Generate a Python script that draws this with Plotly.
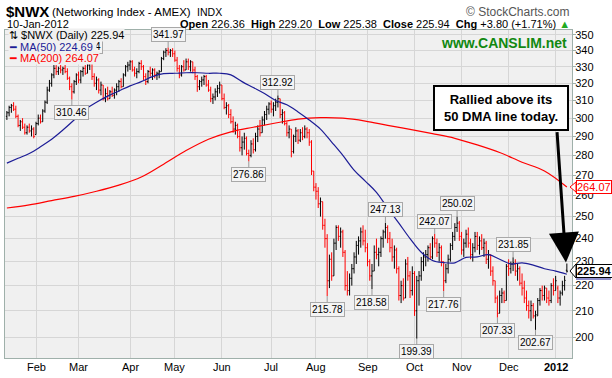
import math
import pandas as pd
import plotly.graph_objects as go

# ---------------- data ----------------
holidays = ["2011-01-17", "2011-02-21", "2011-04-22", "2011-05-30", "2011-07-04",
            "2011-09-05", "2011-11-24", "2011-12-26", "2012-01-02"]
dates = [d for d in pd.bdate_range("2011-01-12", "2012-01-10")
         if d.strftime("%Y-%m-%d") not in holidays]

opens = [301,303,306,307,305,301,296,298,295,292,
         295,293,294,291,297,300,298,304,309,316,
         320,325,329,327,329,328,329,327,323,318,
         315,321,325,322,327,329,326,331,332,324,
         320,322,316,319,311,314,311,315,313,316,
         318,321,318,325,330,331,333,328,326,327,
         332,330,324,321,327,326,328,325,326,327,
         335,339,340,339,340,338,334,329,325,330,
         328,333,330,333,328,324,318,321,322,324,
         319,316,311,312,315,317,319,311,306,307,
         302,298,294,296,290,284,287,289,281,280,
         286,283,290,294,292,299,302,305,308,305,
         307,309,311,302,303,297,292,294,282,290,
         293,288,292,290,294,292,287,272,264,262,
         256,257,246,240,222,231,224,238,245,241,
         243,234,220,218,223,227,232,237,239,243,
         239,236,230,224,226,234,233,234,240,243,
         245,240,236,232,235,227,216,220,215,229,
         224,218,225,210,222,224,230,232,233,236,
         232,240,238,234,236,230,222,227,231,237,
         241,245,247,241,235,238,242,238,233,236,
         241,237,239,236,238,231,233,226,222,215,
         209,216,217,214,228,227,229,229,226,227,
         221,219,215,212,210,212,208,208,214,218,
         216,219,215,214,220,218,219,215,217,220,
         226.36]
highs = [304,307,308,309,307,302,299,300,297,296,
         297,296,295,298,302,302,305,310,318,322,
         326,331,331,330,331,330,331,329,324,320,
         322,326,327,328,330,331,333,334.14,332,326,
         324,323,321,319,317,318,316,318,317,320,
         322,323,326,331,333,334,334,330,329,333,
         334,331,326,328,330,329,329,327,328,336,
         340,341.5,341.97,341,341.5,340,336,331,331,334,
         335,335,334,333,330,325,322,324,325,325,
         322,318,314,317,319,321,319,314,309,308,
         305,301,298,297,293,290,292,290,283,288,
         289,292,296,299,301,304,307,309,310,309,
         311,312.92,311,305,304,298,296,294,291,295,
         294,294,295,296,295,294,288,272,266,264,
         259,257,249,242,233,234,240,246,246,245,
         244,235,226,225,229,234,239,241,245,246,
         244,238,231,229,237,240,236,241,244,247.13,
         246,243,240,237,236,228,222,223,231,232,
         226,228,226,224,226,232,234,235,237,238,
         241,242.07,240,238,237,230,229,233,238,243,
         247,250.02,248,243,240,244,245,240,238,243,
         243,241,242,240,239,235,233,228,222,216,
         218,219,218,229,231,230,231.85,231,229,228,
         225,222,218,214,214,213,210,215,219,220,
         220,219,218,221,223,224,220,218,222,224,
         229.2]
lows = [299,301,303,304,300,295,293,294,291,291,
        292,290,289,291,296,297,298,303,308,315,
        318,323,325,325,326,325,326,322,316,310.46,
        314,319,320,320,324,325,326,328,322,318,
        316,314,313,310,309,310,311,312,311,313,
        315,317,318,324,327,328,327,324,323,326,
        328,322,319,320,324,322,323,322,323,327,
        334,336,337,336,336,333,327,323,324,327,
        328,328,327,326,322,315,316,318,319,318,
        315,309,308,310,312,314,310,305,302,300,
        297,292,291,289,282,280,283,280,276.86,279,
        281,282,287,290,292,296,299,302,303,301,
        304,306,300,297,296,290,289,279,281,287,
        286,287,288,289,289,285,270,262,258,254,
        250,244,236,215.78,219,222,224,235,239,236,
        232,218,216,216,220,225,229,233,236,237,
        234,228,222,218.58,226,231,228,232,236,240,
        238,234,230,227,225,214,213,214,215,222,
        215,216,208,199.39,212,222,226,228,230,231,
        231,236,232,230,228,217.76,221,225,230,235,
        239,243,239,233,232,236,236,231,230,234,
        235,233,235,232,229,227,224,220,213,207.33,
        209,213,213,214,224,225,226,224,222,220,
        216,213,210,207,206,207,202.67,208,212,214,
        214,213,212,213,216,218,213,212,216,218,
        225.38]
closes = [303,306,307,305,301,296,298,295,292,295,
          293,294,290,297,300,298,304,309,316,320,
          325,329,327,329,328,329,327,323,318,315,
          321,325,322,327,329,326,331,332,324,320,
          322,316,319,311,314,311,315,313,316,318,
          321,318,325,330,331,333,328,326,327,332,
          330,324,321,327,326,328,325,326,327,335,
          339,340,339,340,338,334,329,325,330,328,
          333,330,333,328,324,318,321,322,324,319,
          316,311,312,315,317,319,311,306,307,302,
          298,294,296,290,284,287,289,281,280,286,
          283,290,294,292,299,302,305,308,305,307,
          309,311,302,303,297,292,294,282,290,293,
          288,292,290,294,292,287,272,264,262,256,
          257,246,240,222,231,224,238,245,241,243,
          234,220,218,223,227,232,237,239,243,239,
          236,230,224,226,234,233,234,240,243,245,
          240,236,232,235,227,216,220,215,229,224,
          218,225,210,222,224,230,232,233,236,232,
          240,238,234,236,230,222,227,231,237,241,
          245,247,241,235,238,242,238,233,236,241,
          237,239,236,238,231,233,226,222,215,209,
          216,217,214,228,227,229,229.5,226,227,221,
          219,215,212,210,212,208,208.5,214,218,216,
          219,215,214,220,218,222,215,217,220,222.14,
          225.94]

# moving averages read at every 5th / 10th bar
ma50_idx = list(range(0, 251, 5))
ma50_vals = [276,278.5,281,284.5,288.5,293.5,299,305,309,312.5,
             315.5,318.5,321,324,325.8,326,326.3,326.3,326,326,
             325,321,317.5,314,310,307.5,303.5,299,294,287,
             280,272.5,267,261.5,254,247,240,234,230.5,229.6,
             229.5,231.8,232,233,231,229,229.5,228.5,227,226,
             224.69]
ma200_idx = list(range(0, 251, 10))
ma200_vals = [254,255.5,257.5,259.5,262,265,269,275.5,282.5,288.5,
              292.5,295,297.3,299.5,300.3,300,298.4,296,293.8,291.5,
              289,285.5,281.5,276.5,272,264.07]

# labelled extremes: (bar index, value, above?)
label_idx = [72, 29, 37, 121, 108, 143, 163, 169, 191, 201, 195, 183, 219, 226, 236]
label_val = [341.97, 310.46, 334.14, 312.92, 276.86, 215.78, 218.58, 247.13,
             242.07, 250.02, 217.76, 199.39, 207.33, 231.85, 202.67]
label_up = [True, False, True, True, False, False, False, True,
            True, True, False, False, False, True, False]

y_ticks = list(range(200, 351, 10))

# ---------------- figure ----------------
n = len(closes)
xs = list(range(n))
up = [i for i in xs if i == 0 or closes[i] >= closes[i - 1]]
dn = [i for i in xs if i not in up]

month_idx, month_txt = [], []
for i in range(1, min(len(dates), n)):
    if dates[i].month != dates[i - 1].month:
        month_idx.append(i)
        month_txt.append("<b>2012</b>" if dates[i].month == 1 else dates[i].strftime("%b"))

fig = go.Figure()

def ohlc(idx, color):
    return go.Ohlc(x=idx, open=[opens[i] for i in idx], high=[highs[i] for i in idx],
                   low=[lows[i] for i in idx], close=[closes[i] for i in idx],
                   increasing=dict(line=dict(color=color, width=1)),
                   decreasing=dict(line=dict(color=color, width=1)),
                   tickwidth=0.45, showlegend=False, hoverinfo="skip")

fig.add_trace(go.Scatter(x=ma200_idx, y=ma200_vals, mode="lines",
                         line=dict(color="#ff0000", width=1.2, shape="spline"),
                         showlegend=False, hoverinfo="skip"))
fig.add_trace(go.Scatter(x=ma50_idx, y=ma50_vals, mode="lines",
                         line=dict(color="#1c1c96", width=1.2, shape="spline"),
                         showlegend=False, hoverinfo="skip"))
fig.add_trace(ohlc(up, "#000000"))
fig.add_trace(ohlc(dn, "#ff0000"))

L, R, T, B = 5, 572, 30, 358
def px(x):
    return (x - L) / (R - L)
def py(y):
    return (B - y) / (B - T)

FONT = "Liberation Sans"
ann = []
for i, v, u in zip(label_idx, label_val, label_up):
    ann.append(dict(x=i, y=math.log10(v), text=f"{v:.2f}", showarrow=True,
                    arrowhead=0, arrowwidth=1, arrowcolor="#9a9a9a", ax=0,
                    ay=-13 if u else 13, standoff=0,
                    font=dict(family=FONT, size=10, color="#000"),
                    bgcolor="#f4f4f4", bordercolor="#a8a8a8", borderwidth=1,
                    borderpad=1, xshift=-4 if i == 37 else 0))

leg = [("⇅ $NWX (Daily) 225.94", "#000000", 35),
       ("━ MA(50) 224.69 ", "#1c1c96", 46.5),
       ("━ MA(200) 264.07", "#ff0000", 58)]
for t, c, y in leg:
    ann.append(dict(xref="paper", yref="paper", x=px(8), y=py(y), text=t,
                    showarrow=False, xanchor="left", yanchor="middle",
                    font=dict(family=FONT, size=11, color=c),
                    bgcolor="#f0f0f0", borderpad=0))

ann.append(dict(xref="paper", yref="paper", x=px(569), y=py(43), text="<b>www.CANSLIM.net</b>",
                showarrow=False, xanchor="right", yanchor="middle",
                font=dict(family=FONT, size=14, color="#118811")))

# callout box and arrow
ann.append(dict(xref="paper", yref="paper", x=px(500.5), y=py(107.5),
                xanchor="center", yanchor="middle",
                text="<b>Rallied above its<br>50 DMA line today.</b>",
                showarrow=False, font=dict(family=FONT, size=13, color="#000"),
                bgcolor="#ffffff", bordercolor="#000000", borderwidth=2, borderpad=4,
                width=124, height=34))
ann.append(dict(x=249.6, y=math.log10(229.6), text="", showarrow=True, arrowhead=2,
                arrowsize=2.0, arrowwidth=3, arrowcolor="#000000", ax=-9, ay=-132,
                standoff=0))

# month labels
for i, t in zip(month_idx, month_txt):
    ann.append(dict(x=i, xref="x", yref="paper", y=py(366.5), text=t, showarrow=False,
                    xanchor="center", yanchor="middle",
                    font=dict(family=FONT, size=11, color="#000")))

# header
ann.append(dict(xref="paper", yref="paper", x=px(4), y=py(12), text="<b>$NWX</b>",
                showarrow=False, xanchor="left", yanchor="middle",
                font=dict(family=FONT, size=15, color="#000")))
ann.append(dict(xref="paper", yref="paper", x=px(50), y=py(12.5),
                text="(Networking Index - AMEX)  <span style='font-size:10.5px'>INDX</span>",
                showarrow=False, xanchor="left", yanchor="middle",
                font=dict(family=FONT, size=11.5, color="#000")))
ann.append(dict(xref="paper", yref="paper", x=px(572), y=py(12), text="© StockCharts.com",
                showarrow=False, xanchor="right", yanchor="middle",
                font=dict(family=FONT, size=12, color="#555")))
ann.append(dict(xref="paper", yref="paper", x=px(5), y=py(24), text="10-Jan-2012",
                showarrow=False, xanchor="left", yanchor="middle",
                font=dict(family=FONT, size=11, color="#000")))
ann.append(dict(xref="paper", yref="paper", x=px(572), y=py(24),
                text="<b>Open</b> 226.36  <b>High</b> 229.20  <b>Low</b> 225.38  "
                     "<b>Close</b> 225.94  <b>Chg</b> +3.80 (+1.71%) "
                     "<span style='color:#22aa22'>▲</span>",
                showarrow=False, xanchor="right", yanchor="middle",
                font=dict(family=FONT, size=11, color="#000")))

# right-side value tags
ann.append(dict(xref="paper", yref="paper", x=px(576), y=py(187), text="264.07",
                showarrow=False, xanchor="left", yanchor="middle",
                font=dict(family=FONT, size=11, color="#ff0000"),
                bgcolor="#ffffff", bordercolor="#ff0000", borderwidth=1, borderpad=0))
ann.append(dict(xref="paper", yref="paper", x=px(576), y=py(271), text="<b>225.94</b>",
                showarrow=False, xanchor="left", yanchor="middle",
                font=dict(family=FONT, size=11, color="#000"),
                bgcolor="#ffffff", bordercolor="#000000", borderwidth=1, borderpad=0))

shapes = [
    dict(type="path", xref="paper", yref="paper",
         path=f"M {px(570)} {py(187)} L {px(576)} {py(182)} L {px(576)} {py(192)} Z",
         line=dict(color="#ff0000", width=1), fillcolor="#ffffff"),
    dict(type="path", xref="paper", yref="paper",
         path=f"M {px(570)} {py(271)} L {px(576)} {py(264)} L {px(576)} {py(278)} Z",
         line=dict(color="#000000", width=1), fillcolor="#ffffff"),
    dict(type="line", xref="paper", yref="paper", x0=px(576), x1=px(611),
         y0=py(279), y1=py(279), line=dict(color="#1c1c96", width=1)),
]

fig.update_layout(
    width=612, height=378,
    margin=dict(l=L, r=612 - R, t=T, b=378 - B),
    paper_bgcolor="#ffffff", plot_bgcolor="#f0f0f0",
    showlegend=False,
    annotations=ann, shapes=shapes,
    xaxis=dict(range=[-0.84, 252.3], tickvals=month_idx, ticktext=[""] * len(month_idx),
               showgrid=True, gridcolor="#d6d6d6", gridwidth=1,
               showline=True, linecolor="#9fb0aa", mirror=True,
               ticks="", showticklabels=False,
               rangeslider=dict(visible=False), zeroline=False, fixedrange=True),
    yaxis=dict(type="log", range=[math.log10(192.4), math.log10(353.2)],
               tickvals=y_ticks, ticktext=[str(v) for v in y_ticks], side="right",
               showgrid=True, gridcolor="#d6d6d6", gridwidth=1,
               showline=True, linecolor="#9fb0aa", mirror=True,
               ticks="outside", ticklen=3, tickcolor="#9fb0aa", ticklabelstandoff=-3,
               tickfont=dict(family=FONT, size=11, color="#000"),
               zeroline=False, fixedrange=True),
)

fig.write_html("out.html", config={"displayModeBar": False},
               post_script="document.body.style.margin='0';document.body.style.overflow='hidden';")
